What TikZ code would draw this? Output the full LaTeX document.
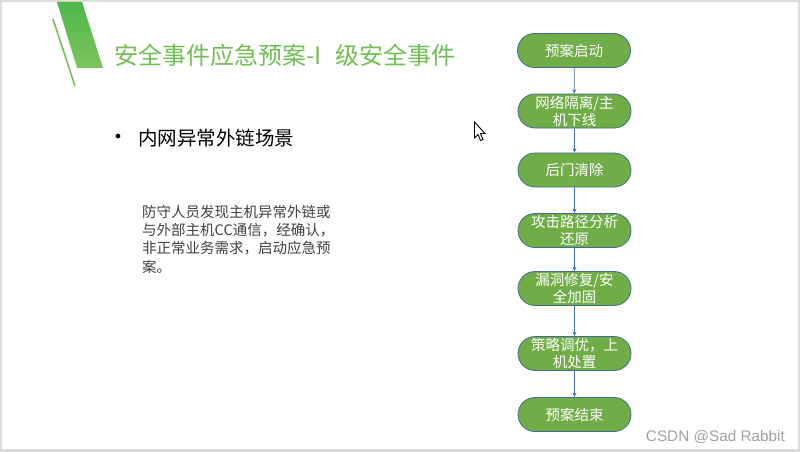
\documentclass[tikz,border=0pt]{standalone}
\usepackage{fontspec}
\setmainfont{Noto Sans CJK SC}
\newfontfamily\wmfont{Liberation Sans}
\newfontfamily\dotfont{DejaVu Sans}
\usetikzlibrary{shapes.misc,arrows.meta}
\definecolor{framegray}{HTML}{DCDCDC}
\definecolor{titlegreen}{HTML}{6FBF52}
\definecolor{bartop}{HTML}{4DB748}
\definecolor{barbot}{HTML}{7DC45C}
\definecolor{stepfill}{HTML}{70AD47}
\definecolor{stepedge}{HTML}{3F6E8C}
\definecolor{arrowblue}{HTML}{4472C4}
\definecolor{bodygray}{HTML}{404040}
\definecolor{wmgray}{HTML}{A0A0A0}
\tikzset{
  stepbox/.style={rounded rectangle, draw=stepedge, line width=0.8pt, fill=stepfill,
    minimum width=113pt, minimum height=34pt, inner sep=0pt, text=white, align=center,
    font=\fontsize{14.5}{17}\selectfont},
  flowarrow/.style={draw=arrowblue, line width=0.7pt, -{Stealth[length=4.5pt,width=4pt]}},
  bodyline/.style={anchor=west, inner sep=0pt, text=bodygray, font=\fontsize{14.5}{18}\selectfont}
}
\begin{document}
\begin{tikzpicture}[x=1pt,y=-1pt]
\useasboundingbox (0,0) rectangle (800,452);
\fill[framegray] (0,0) rectangle (800,452);
\fill[white] (2,2) rectangle (798,449);
% decoration
\shade[top color=bartop, bottom color=barbot] (57,2) -- (82,2) -- (103,68) -- (77,68) -- cycle;
\draw[titlegreen, line width=1.5pt] (53,19) -- (75,86);
% title
\node[anchor=west, inner sep=0pt, text=titlegreen, font=\fontsize{24}{27}\selectfont] (title) at (114,55) {安全事件应急预案-I\hspace{14pt}级安全事件};
% bullet
\node[inner sep=0pt, font=\dotfont\fontsize{16}{18}\selectfont] (dot) at (118,138.5) {•};
\node[anchor=west, inner sep=0pt, font=\fontsize{19.5}{22}\selectfont] (bullet) at (138,138) {内网异常外链场景};
% body
\node[bodyline] (b1) at (142,211.5) {防守人员发现主机异常外链或};
\node[bodyline] (b2) at (142,230) {与外部主机CC通信，经确认，};
\node[bodyline] (b3) at (142,248.5) {非正常业务需求，启动应急预};
\node[bodyline] (b4) at (142,267) {案。};
% flow
\node[stepbox] (s1) at (574,50.5) {预案启动};
\node[stepbox] (s2) at (574.5,111) {网络隔离/主\\机下线};
\node[stepbox] (s3) at (574.5,170) {后门清除};
\node[stepbox] (s4) at (574.5,230.5) {攻击路径分析\\还原};
\node[stepbox] (s5) at (574.5,288.5) {漏洞修复/安\\全加固};
\node[stepbox] (s6) at (574.5,353.5) {策略调优，上\\机处置};
\node[stepbox] (s7) at (574.5,414.5) {预案结束};
\draw[flowarrow] (s1) -- (s2);
\draw[flowarrow] (s2) -- (s3);
\draw[flowarrow] (s3) -- (s4);
\draw[flowarrow] (s4) -- (s5);
\draw[flowarrow] (s5) -- (s6);
\draw[flowarrow] (s6) -- (s7);
% cursor
\draw[black, fill=white, line width=0.9pt, line join=miter] (474.5,122) -- (474.5,138) -- (478,134.5) -- (480.5,140.5) -- (483,139.5) -- (480.5,133.5) -- (485,133.5) -- cycle;
% watermark
\node[anchor=east, inner sep=0pt, text=wmgray, font=\wmfont\fontsize{15.3}{17}\selectfont] (wm) at (785,437) {CSDN @Sad Rabbit};
\end{tikzpicture}
\end{document}
